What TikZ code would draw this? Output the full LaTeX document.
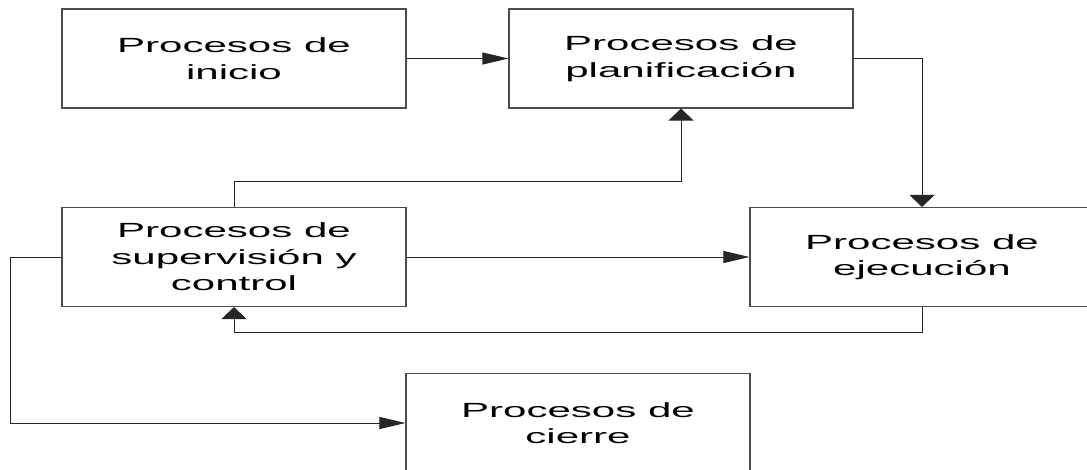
\documentclass[tikz,border=0pt]{standalone}
\usepackage{fontspec}
\newfontfamily\diagfont{Liberation Sans}[FakeStretch=2.05]
\usetikzlibrary{arrows.meta}
\begin{document}
\begin{tikzpicture}[x=1pt,y=-1pt,
  procbox/.style={draw=black!70,line width=1.1pt,rectangle,minimum width=344pt,minimum height=99pt,inner sep=0pt,align=center,font=\diagfont\fontsize{20.5}{26.5}\selectfont},
  conn/.style={draw=black!85,line width=0.9pt},
  harr/.style={conn,-{Triangle[length=26pt,width=12pt]}},
  varr/.style={conn,-{Triangle[length=12pt,width=25pt]}}]
\clip (0,0) rectangle (1087,469);
\fill[white] (0,0) rectangle (1087,469);
\node[procbox] (b1) at (234,58.5) {Procesos de\\inicio};
\node[procbox] (b2) at (681,58.5) {Procesos de\\planificación};
\node[procbox] (b3) at (234,257) {Procesos de\\supervisión y\\control};
\node[procbox] (b4) at (922,257) {Procesos de\\ejecución};
\node[procbox] (b5) at (578,423) {Procesos de\\cierre};
\draw[harr] (b1.east) -- (b2.west);
\draw[varr] (b2.east) -| (b4.north);
\draw[varr] (b3.north) -- ++(0,-25.5) -| (b2.south);
\draw[harr] (b3.east) -- (b4.west);
\draw[varr] (b4.south) -- ++(0,25.5) -| (b3.south);
\draw[harr] (b3.west) -- ++(-51,0) |- (b5.west);
\end{tikzpicture}
\end{document}
